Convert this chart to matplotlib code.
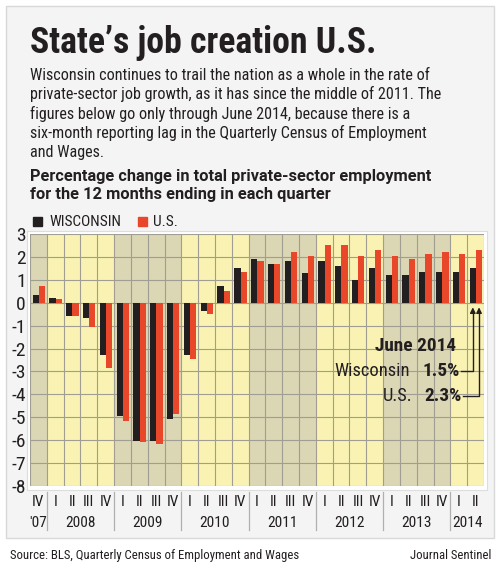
import numpy as np
from matplotlib import pyplot as plt
from matplotlib import font_manager as fm
from matplotlib.patches import Rectangle

# quarters: IV '07 through II 2014
quarters = ["IV"] + ["I", "II", "III", "IV"] * 6 + ["I", "II"]
years = ["'07", "2008", "2009", "2010", "2011", "2012", "2013", "2014"]
year_len = [1, 4, 4, 4, 4, 4, 4, 2]

wisconsin = [0.32, 0.22, -0.58, -0.67, -2.26, -4.93, -6.05, -6.05, -5.06, -2.26, -0.38, 0.72, 1.52,
             1.91, 1.71, 1.81, 1.30, 1.81, 1.61, 1.01, 1.52, 1.22, 1.22, 1.32, 1.32, 1.32, 1.52]
us = [0.72, 0.15, -0.58, -1.06, -2.87, -5.16, -6.07, -6.16, -4.86, -2.46, -0.48, 0.52, 1.32,
      1.81, 1.71, 2.22, 2.03, 2.52, 2.52, 2.03, 2.32, 2.03, 1.93, 2.13, 2.22, 2.13, 2.32]

yticks = list(range(-8, 4))

BLACK = "#231f20"
RED = "#e8472a"
YELLOW = "#f9f2b2"
TAN = "#dbd6b3"
GRID = "#a09d92"

# pick a condensed face that has a real bold, else plain Roboto
fonts = {}
for f in fm.fontManager.ttflist:
    fonts.setdefault(f.name, set()).add(f.weight if isinstance(f.weight, int) else 400)
COND = "Roboto"
for cand in ["Roboto Condensed", "PT Sans Narrow", "Barlow Semi Condensed",
             "IBM Plex Sans Condensed", "Asap Condensed", "Liberation Sans Narrow"]:
    w = fonts.get(cand, set())
    if any(v <= 400 for v in w) and any(v >= 700 for v in w):
        COND = cand
        break
plt.rcParams['font.family'] = [COND, "DejaVu Sans"]
title_weight = 900 if 900 in fonts.get(COND, set()) else "bold"

W, H = 500, 567
fig = plt.figure(figsize=(W / 100, H / 100), dpi=100)
fig.patch.set_facecolor("white")
renderer = fig.canvas.get_renderer()

def fx(px):
    return px / W

def fy(py):
    return 1 - py / H

def fit(t, width):
    bb = t.get_window_extent(renderer)
    t.set_fontsize(t.get_fontsize() * width / bb.width)
    return t.get_fontsize()

# outer panel
fig.patches.append(Rectangle((fx(6), fy(538)), fx(488), fy(6) - fy(538),
                             transform=fig.transFigure, facecolor="#f4f4f4",
                             edgecolor="#d8d8d8", lw=1.0, zorder=-5))

t = fig.text(fx(30), fy(53), "State\u2019s job creation U.S.", fontsize=28,
             fontweight=title_weight, color=BLACK, va="baseline", ha="left")
fit(t, 348)

body_lines = ["Wisconsin continues to trail the nation as a whole in the rate of",
              "private-sector job growth, as it has since the middle of 2011. The",
              "figures below go only through June 2014, because there is a",
              "six-month reporting lag in the Quarterly Census of Employment",
              "and Wages."]
t = fig.text(fx(30), fy(80), body_lines[1], fontsize=13, va="baseline")
bs = fit(t, 410)
t.remove()
for i, line in enumerate(body_lines):
    fig.text(fx(30), fy(80 + 19.3 * i), line, fontsize=bs, color=BLACK,
             va="baseline", ha="left")

head = ["Percentage change in total private-sector employment",
        "for the 12 months ending in each quarter"]
t = fig.text(fx(30), fy(181), head[0], fontsize=11.5, fontweight="bold",
             family=["Roboto", "DejaVu Sans"], va="baseline")
hs = fit(t, 400)
t.remove()
for i, line in enumerate(head):
    fig.text(fx(30), fy(181 + 18.5 * i), line, fontsize=hs, fontweight="bold",
             family=["Roboto", "DejaVu Sans"], color=BLACK, va="baseline", ha="left")

# legend
fig.patches.append(Rectangle((fx(33), fy(226)), fx(9), fy(217) - fy(226),
                             transform=fig.transFigure, color=BLACK))
t = fig.text(fx(49), fy(226), "WISCONSIN", fontsize=12, color=BLACK, va="baseline", ha="left")
ls = fit(t, 72)
fig.patches.append(Rectangle((fx(138), fy(226)), fx(9), fy(217) - fy(226),
                             transform=fig.transFigure, color=RED))
fig.text(fx(153), fy(226), "U.S.", fontsize=ls, color=BLACK, va="baseline", ha="left")

# white frame behind plot
fig.patches.append(Rectangle((fx(27), fy(490)), fx(460), fy(231) - fy(490),
                             transform=fig.transFigure, facecolor="white",
                             edgecolor="#dddddd", lw=0.8, zorder=-1))

ax = fig.add_axes([fx(30), fy(486), fx(454), fy(234) - fy(486)])
n = len(quarters)
x = np.arange(n)
ax.set_xlim(-0.5, n - 0.5)
ax.set_ylim(-8, 3)

# year shading
start = 0
for i, ln in enumerate(year_len):
    ax.axvspan(start - 0.5, start + ln - 0.5, color=TAN if i % 2 == 0 else YELLOW,
               lw=0, zorder=0)
    start += ln

for b in np.arange(n + 1) - 0.5:
    ax.axvline(b, color=GRID, lw=0.8, zorder=1)
for tk in yticks:
    ax.axhline(tk, color=GRID, lw=0.8, zorder=1)

bw = 0.37
ax.bar(x - bw / 2 + 0.02, wisconsin, width=bw, color=BLACK, zorder=3)
ax.bar(x + bw / 2 + 0.02, us, width=bw, color=RED, zorder=3)

ax.set_xticks([])
ax.set_yticks(yticks)
ax.set_yticklabels([str(tk) for tk in yticks], fontsize=14, color=BLACK)
ax.tick_params(axis="y", length=0, pad=3)
for s in ax.spines.values():
    s.set_visible(False)

# x labels below
trans = ax.get_xaxis_transform()
t = ax.text(0, -0.143, "2008", transform=trans, fontsize=12)
ys = fit(t, 30)
t.remove()
for i, q in enumerate(quarters):
    ax.text(i, -0.062, q, transform=trans, ha="center", va="center", fontsize=ys,
            color=BLACK, clip_on=False)
start = 0
for i, (yr, ln) in enumerate(zip(years, year_len)):
    ax.text(start + (ln - 1) / 2, -0.145, yr, transform=trans, ha="center", va="center",
            fontsize=ys, color=BLACK, clip_on=False)
    if i > 0:
        ax.plot([start - 0.5, start - 0.5], [-0.024, -0.175], transform=trans,
                color="#b0b0b0", lw=0.9, clip_on=False)
    start += ln

# annotation for June 2014
last = n - 1
t = ax.text(last - 1.17, -1.9, "June 2014", ha="right", va="center", fontsize=13,
            fontweight="bold", color=BLACK, zorder=5)
abs_ = fit(t, 81)
t = ax.text(last - 3.9, -2.99, "Wisconsin", ha="right", va="center", fontsize=13,
            color=BLACK, zorder=5)
ars = fit(t, 75)
ax.text(last - 0.93, -2.99, "1.5%", ha="right", va="center", fontsize=abs_,
        fontweight="bold", color=BLACK, zorder=5)
ax.text(last - 0.81, -4.07, "2.3%", ha="right", va="center", fontsize=abs_,
        fontweight="bold", color=BLACK, zorder=5)
ax.text(last - 3.78, -4.07, "U.S.", ha="right", va="center", fontsize=ars,
        color=BLACK, zorder=5)

xw = last - bw / 2 + 0.02
xu = last + bw / 2 + 0.02
ax.plot([last - 0.88, xw, xw], [-2.99, -2.99, -0.35], color=BLACK, lw=1, zorder=5)
ax.plot([last - 0.75, xu, xu], [-4.07, -4.07, -0.35], color=BLACK, lw=1, zorder=5)
ax.annotate("", xy=(xw, -0.08), xytext=(xw, -0.5),
            arrowprops=dict(arrowstyle="-|>", color=BLACK, lw=1, mutation_scale=8), zorder=5)
ax.annotate("", xy=(xu, -0.08), xytext=(xu, -0.5),
            arrowprops=dict(arrowstyle="-|>", color=BLACK, lw=1, mutation_scale=8), zorder=5)

t = fig.text(fx(10), fy(559), "Source: BLS, Quarterly Census of Employment and Wages",
             fontsize=11, color=BLACK, va="baseline", ha="left")
fit(t, 288)
t = fig.text(fx(491), fy(559), "Journal Sentinel", fontsize=11, color=BLACK,
             va="baseline", ha="right")
fit(t, 81)

fig.savefig("out.png", dpi=100, facecolor=fig.get_facecolor())
